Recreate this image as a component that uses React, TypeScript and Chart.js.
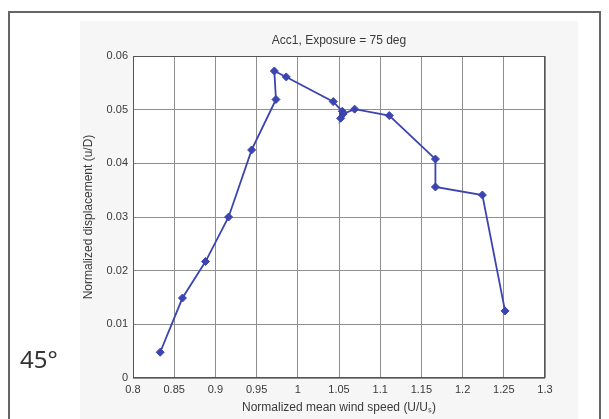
import React, { useEffect, useRef } from "react";
import { Chart, registerables } from "chart.js";

Chart.register(...registerables);

const titleText = "Acc1, Exposure = 75 deg";
const xAxisTitle = "Normalized mean wind speed (U/Uₛ)";
const yAxisTitle = "Normalized displacement (u/D)";
const sideLabel = "45°";

const windSpeed = [
  0.833, 0.860, 0.888, 0.916, 0.944, 0.9735, 0.9715, 0.986, 1.043, 1.054,
  1.052, 1.055, 1.069, 1.111, 1.167, 1.167, 1.224, 1.2515,
];
const displacement = [
  0.0048, 0.0149, 0.0217, 0.0300, 0.0425, 0.0519, 0.0572, 0.0561, 0.0515,
  0.0497, 0.0484, 0.0492, 0.0501, 0.0489, 0.0408, 0.0356, 0.0341, 0.0125,
];

const FONT = "'Liberation Sans', Arial, sans-serif";
const TEXT = "#3a3a3a";
const fmt = (v: number) => String(parseFloat(Number(v).toFixed(2)));

const framePlugin = {
  id: "frame",
  beforeDraw(chart: any) {
    const ctx = chart.ctx;
    ctx.save();
    ctx.fillStyle = "#ffffff";
    ctx.fillRect(0, 0, chart.width, chart.height);
    ctx.fillStyle = "#f6f6f6";
    ctx.fillRect(80, 21, 498, 398);
    const a = chart.chartArea;
    ctx.fillStyle = "#ffffff";
    ctx.fillRect(a.left, a.top, a.right - a.left, a.bottom - a.top);
    ctx.strokeStyle = "#666666";
    ctx.lineWidth = 2;
    ctx.beginPath();
    ctx.moveTo(9, 419);
    ctx.lineTo(9, 12);
    ctx.lineTo(600, 12);
    ctx.lineTo(600, 419);
    ctx.stroke();
    ctx.fillStyle = "#333333";
    ctx.font = "24px 'Noto Sans', sans-serif";
    ctx.textBaseline = "alphabetic";
    ctx.textAlign = "left";
    ctx.fillText(sideLabel, 20, 368);
    ctx.fillStyle = TEXT;
    ctx.font = "12px " + FONT;
    ctx.textAlign = "center";
    ctx.textBaseline = "middle";
    ctx.fillText(titleText, (a.left + a.right) / 2, 41);
    ctx.restore();
  },
  afterDatasetsDraw(chart: any) {
    const a = chart.chartArea;
    const ctx = chart.ctx;
    ctx.save();
    ctx.strokeStyle = "#555555";
    ctx.lineWidth = 1;
    ctx.strokeRect(a.left + 0.5, a.top + 0.5, a.right - a.left - 1, a.bottom - a.top - 1);
    ctx.restore();
  },
};

export default function App() {
  const ref = useRef<HTMLCanvasElement | null>(null);
  useEffect(() => {
    if (!ref.current) return;
    const chart = new Chart(ref.current, {
      type: "scatter",
      data: {
        datasets: [
          {
            data: windSpeed.map((x, i) => ({ x, y: displacement[i] })),
            showLine: true,
            borderColor: "#3c44b0",
            backgroundColor: "#3c44b0",
            borderWidth: 1.8,
            pointStyle: "rectRot",
            pointRadius: 4,
            pointBorderWidth: 1,
          },
        ],
      },
      options: {
        responsive: false,
        animation: false,
        layout: { padding: { left: 81, right: 64, top: 56, bottom: 0 } },
        plugins: {
          legend: { display: false },
          tooltip: { enabled: false },
          title: { display: false },
        },
        scales: {
          x: {
            type: "linear",
            min: 0.8,
            max: 1.3,
            afterFit: (s: any) => {
              s.height = 41;
            },
            ticks: {
              stepSize: 0.05,
              autoSkip: false,
              maxRotation: 0,
              padding: 5,
              color: TEXT,
              font: { family: FONT, size: 11 },
              callback: (v: any) => fmt(v),
            },
            grid: { color: "#8e8e8e", lineWidth: 1, drawTicks: false },
            border: { display: false },
            title: {
              display: true,
              text: xAxisTitle,
              color: TEXT,
              font: { family: FONT, size: 12 },
              padding: { top: 0, bottom: 4 },
            },
          },
          y: {
            type: "linear",
            min: 0,
            max: 0.06,
            afterFit: (s: any) => {
              s.width = 52;
            },
            ticks: {
              stepSize: 0.01,
              padding: 5,
              color: TEXT,
              font: { family: FONT, size: 11 },
              callback: (v: any) => fmt(v),
            },
            grid: { color: "#8e8e8e", lineWidth: 1, drawTicks: false },
            border: { display: false },
            title: {
              display: true,
              text: yAxisTitle,
              color: TEXT,
              font: { family: FONT, size: 12 },
              padding: 0,
            },
          },
        },
      },
      plugins: [framePlugin],
    });
    return () => chart.destroy();
  }, []);
  return (
    <div style={{ position: "fixed", left: 0, top: 0, width: 609, height: 419 }}>
      <canvas ref={ref} width={609} height={419} style={{ display: "block" }} />
    </div>
  );
}
